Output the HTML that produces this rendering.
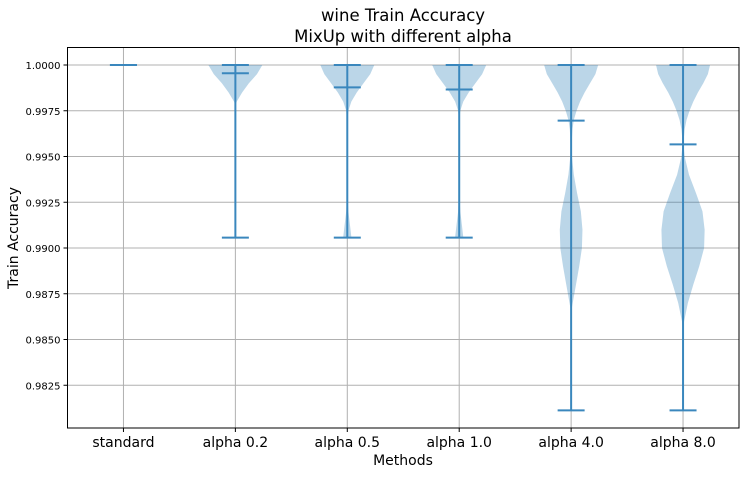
<!DOCTYPE html>
<html><head><meta charset="utf-8"><style>
body{margin:0;background:#fff;font-family:"Liberation Sans","DejaVu Sans",sans-serif}
svg text{font-family:"DejaVu Sans","Liberation Sans",sans-serif}
</style></head><body>
<svg id="chart" width="744" height="474" viewBox="0 0 744 474" xmlns="http://www.w3.org/2000/svg">
<rect width="744" height="474" fill="#fff"/>
<text x="403" y="21" font-size="16.5" text-anchor="middle">wine Train Accuracy</text>
<text x="403" y="42" font-size="16.5" text-anchor="middle">MixUp with different alpha</text>
<g id="grid"></g><g id="violins"></g><g id="axes"></g>
<text x="403" y="465" font-size="14" text-anchor="middle">Methods</text>
<text x="18" y="238" font-size="14" text-anchor="middle" transform="rotate(-90 18 238)">Train Accuracy</text>
</svg>
<script>
const categories=["standard","alpha 0.2","alpha 0.5","alpha 1.0","alpha 4.0","alpha 8.0"];
const mins=[1.0,0.99057,0.99057,0.99057,0.98113,0.98113];
const maxs=[1.0,1.0,1.0,1.0,1.0,1.0];
const means=[1.0,0.99955,0.99878,0.99866,0.99696,0.99566];
const yTicks=[0.9825,0.985,0.9875,0.99,0.9925,0.995,0.9975,1.0];
// density profiles: [value, relative half-width 0..1]
const dens=[
 [],
 [[1.0,1],[0.9995,0.8],[0.999,0.5],[0.9985,0.25],[0.998,0.05],[0.9978,0],[0.9906,0],[0.9906,0.03]],
 [[1.0,1],[0.9995,0.85],[0.999,0.6],[0.9985,0.35],[0.998,0.15],[0.9975,0.04],[0.997,0.01],[0.9965,0],[0.993,0],[0.992,0.04],[0.991,0.12],[0.9906,0.15]],
 [[1.0,1],[0.9995,0.85],[0.999,0.6],[0.9985,0.35],[0.998,0.15],[0.9975,0.04],[0.997,0.01],[0.9965,0],[0.993,0],[0.992,0.04],[0.991,0.12],[0.9906,0.15]],
 [[1.0,1],[0.9995,0.9],[0.999,0.7],[0.9985,0.5],[0.998,0.33],[0.9975,0.2],[0.997,0.1],[0.9965,0.05],[0.996,0.03],[0.9955,0.02],[0.995,0.03],[0.994,0.1],[0.993,0.22],[0.992,0.36],[0.991,0.42],[0.990,0.4],[0.989,0.3],[0.988,0.18],[0.987,0.06],[0.9865,0]],
 [[1.0,1],[0.9995,0.92],[0.999,0.75],[0.9985,0.55],[0.998,0.38],[0.9975,0.24],[0.997,0.13],[0.9965,0.06],[0.996,0.03],[0.9955,0.03],[0.995,0.06],[0.994,0.22],[0.993,0.48],[0.992,0.72],[0.991,0.8],[0.990,0.78],[0.989,0.6],[0.988,0.38],[0.987,0.18],[0.986,0.04],[0.9855,0]]
];
const L=67.5,R=739,T=47.5,B=428;
const y=v=>65+(1.0-v)/0.0025*45.75;
const x=i=>L+(i+0.5)*(R-L)/categories.length;
const NS="http://www.w3.org/2000/svg";
function mk(tag,attrs,parent){const e=document.createElementNS(NS,tag);for(const k in attrs)e.setAttribute(k,attrs[k]);parent.appendChild(e);return e;}
const grid=document.getElementById('grid'),vg=document.getElementById('violins'),ax=document.getElementById('axes');
yTicks.forEach(t=>{
 const l=mk('line',{x1:L,x2:R,y1:y(t),y2:y(t),stroke:'#b0b0b0','stroke-width':1},grid);
 
 
 const tk=mk('line',{x1:L-4,x2:L,y1:y(t),y2:y(t),stroke:'#000'},ax);
 
 
 const tx=mk('text',{x:L-7,y:y(t)+4,'font-size':10,'text-anchor':'end',fill:'#000'},ax);
 tx.textContent=t.toFixed(4);
 
 
});
categories.forEach((c,i)=>{
 const gl=mk('line',{x1:x(i),x2:x(i),y1:T,y2:B,stroke:'#b0b0b0','stroke-width':1},grid);
 
 
 const tk=mk('line',{x1:x(i),x2:x(i),y1:B,y2:B+4,stroke:'#000'},ax);
 
 
 const tx=mk('text',{x:x(i),y:B+19,'font-size':14,'text-anchor':'middle'},ax);
 tx.textContent=c;
 
 
 const d=dens[i],hw=27,cx=x(i);
 if(d.length){
  let p=d.map(q=>(cx+q[1]*hw)+','+y(q[0]));
  let p2=d.slice().reverse().map(q=>(cx-q[1]*hw)+','+y(q[0]));
  const body=mk('polygon',{points:p.concat(p2).join(' '),fill:'#1f77b4','fill-opacity':0.3,'stroke-linejoin':'round'},vg);
  
  
 }
 const col='#3a87bd';
 const bar=mk('line',{x1:cx,x2:cx,y1:y(maxs[i]),y2:y(mins[i]),stroke:col,'stroke-width':2},vg);
 
 
 [[maxs[i],'max-cap'],[mins[i],'min-cap'],[means[i],'mean-line']].forEach(([v,n])=>{
  const cp=mk('line',{x1:cx-13.5,x2:cx+13.5,y1:y(v),y2:y(v),stroke:col,'stroke-width':2},vg);
  
  
 });
});
const fr=mk('rect',{x:L,y:T,width:R-L,height:B-T,fill:'none',stroke:'#000','stroke-width':1},ax);


</script>
</body></html>
